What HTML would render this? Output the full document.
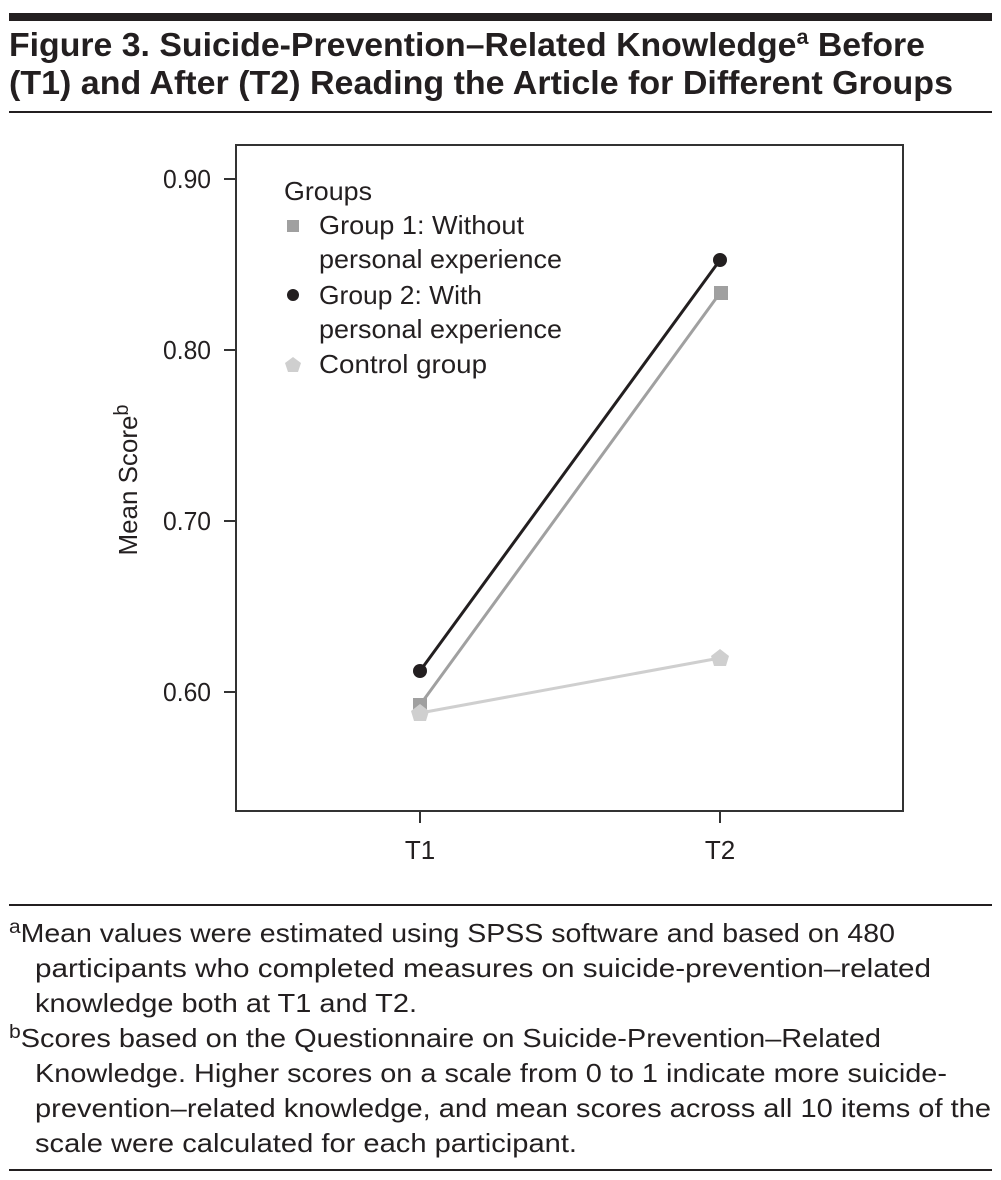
<!DOCTYPE html>
<html><head><meta charset="utf-8"><style>
html,body{margin:0;padding:0;background:#fff}
svg{display:block}
text{font-family:"Liberation Sans",sans-serif;fill:#231f20}
</style></head><body>
<svg width="1001" height="1180" viewBox="0 0 1001 1180" xmlns="http://www.w3.org/2000/svg">
<rect x="9" y="13" width="983" height="8" fill="#231f20"/>
<text x="9" y="56" font-size="33" font-weight="bold" textLength="916" lengthAdjust="spacingAndGlyphs">Figure 3. Suicide-Prevention–Related Knowledge<tspan font-size="21" dy="-12">a</tspan><tspan dy="12"> Before</tspan></text>
<text x="9" y="94" font-size="33" font-weight="bold" textLength="944" lengthAdjust="spacingAndGlyphs">(T1) and After (T2) Reading the Article for Different Groups</text>
<rect x="9" y="111" width="983" height="2" fill="#231f20"/>

<rect x="236" y="145" width="667" height="666" fill="none" stroke="#333" stroke-width="2"/>
<g stroke="#333" stroke-width="2">
<line x1="224" y1="179" x2="236" y2="179"/>
<line x1="224" y1="350" x2="236" y2="350"/>
<line x1="224" y1="521" x2="236" y2="521"/>
<line x1="224" y1="692" x2="236" y2="692"/>
<line x1="420" y1="811" x2="420" y2="823"/>
<line x1="720" y1="811" x2="720" y2="823"/>
</g>
<g font-size="26" text-anchor="end">
<text x="211" y="188" textLength="48" lengthAdjust="spacingAndGlyphs">0.90</text>
<text x="211" y="359" textLength="48" lengthAdjust="spacingAndGlyphs">0.80</text>
<text x="211" y="530" textLength="48" lengthAdjust="spacingAndGlyphs">0.70</text>
<text x="211" y="701" textLength="48" lengthAdjust="spacingAndGlyphs">0.60</text>
</g>
<g font-size="26" text-anchor="middle">
<text x="420" y="859">T1</text>
<text x="720" y="859">T2</text>
</g>
<text transform="translate(137,480) rotate(-90)" font-size="26" text-anchor="middle" textLength="151" lengthAdjust="spacingAndGlyphs">Mean Score<tspan font-size="20" dy="-9">b</tspan></text>

<line x1="420" y1="713" x2="720" y2="658" stroke="#cfcfcf" stroke-width="3"/>
<line x1="420" y1="705" x2="720" y2="293" stroke="#a0a0a0" stroke-width="3"/>
<line x1="420" y1="671" x2="720" y2="260" stroke="#231f20" stroke-width="3"/>
<rect x="413" y="698" width="14" height="14" fill="#a0a0a0"/>
<polygon points="420,704 429,711 426,721 414,721 411,711" fill="#cfcfcf"/>
<polygon points="720,649 729,656 726,666 714,666 711,656" fill="#cfcfcf"/>
<rect x="714" y="286" width="14" height="14" fill="#a0a0a0"/>
<circle cx="420" cy="671" r="7" fill="#231f20"/>
<circle cx="720" cy="260" r="7" fill="#231f20"/>

<g font-size="26">
<text x="284" y="200" textLength="88" lengthAdjust="spacingAndGlyphs">Groups</text>
<text x="319" y="234" textLength="205" lengthAdjust="spacingAndGlyphs">Group 1: Without</text>
<text x="319" y="268" textLength="243" lengthAdjust="spacingAndGlyphs">personal experience</text>
<text x="319" y="304" textLength="163" lengthAdjust="spacingAndGlyphs">Group 2: With</text>
<text x="319" y="338" textLength="243" lengthAdjust="spacingAndGlyphs">personal experience</text>
<text x="319" y="373" textLength="168" lengthAdjust="spacingAndGlyphs">Control group</text>
</g>
<rect x="287" y="220" width="12" height="12" fill="#a0a0a0"/>
<circle cx="293" cy="295" r="6" fill="#231f20"/>
<polygon points="293,357 301,363 298,372 288,372 285,363" fill="#cfcfcf"/>

<rect x="9" y="904" width="983" height="2" fill="#231f20"/>
<g font-size="26">
<text x="9" y="942" textLength="886" lengthAdjust="spacingAndGlyphs"><tspan font-size="19" dy="-9">a</tspan><tspan dy="9">Mean values were estimated using SPSS software and based on 480</tspan></text>
<text x="35" y="977" textLength="896" lengthAdjust="spacingAndGlyphs">participants who completed measures on suicide-prevention–related</text>
<text x="35" y="1012" textLength="382" lengthAdjust="spacingAndGlyphs">knowledge both at T1 and T2.</text>
<text x="9" y="1047" textLength="872" lengthAdjust="spacingAndGlyphs"><tspan font-size="19" dy="-9">b</tspan><tspan dy="9">Scores based on the Questionnaire on Suicide-Prevention–Related</tspan></text>
<text x="35" y="1082" textLength="912" lengthAdjust="spacingAndGlyphs">Knowledge. Higher scores on a scale from 0 to 1 indicate more suicide-</text>
<text x="35" y="1117" textLength="956" lengthAdjust="spacingAndGlyphs">prevention–related knowledge, and mean scores across all 10 items of the</text>
<text x="35" y="1152" textLength="542" lengthAdjust="spacingAndGlyphs">scale were calculated for each participant.</text>
</g>
<rect x="9" y="1169" width="983" height="2" fill="#231f20"/>
</svg>
</body></html>
